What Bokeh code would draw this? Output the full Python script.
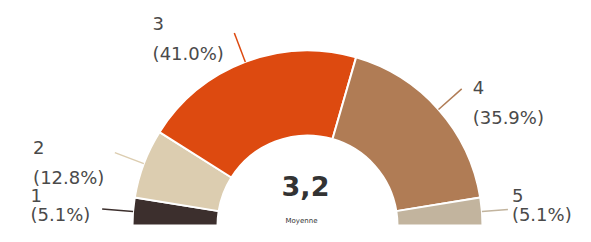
import math
from bokeh.plotting import figure
from bokeh.models import Range1d, ColumnDataSource
from bokeh.core.properties import value
from bokeh.embed import file_html
from bokeh.resources import INLINE

# ---- data ----
categories = ["1", "2", "3", "4", "5"]
percents = [5.1, 12.8, 41.0, 35.9, 5.1]
colors = ["#3c2f2d", "#dccdb0", "#dd4a10", "#b07c55", "#c2b49e"]
mean_label = "3,2"
mean_caption = "Moyenne"

W, H = 575, 226
p = figure(width=W, height=H, output_backend="svg", toolbar_location=None,
           x_range=Range1d(0, W), y_range=Range1d(0, H), min_border=0)
p.axis.visible = False
p.grid.visible = False
p.outline_line_color = None
p.background_fill_color = "white"

cx, cy = 307, 1
R_out, R_in = 175, 90
R_lead = 206

total = sum(percents)
starts, ends, mids = [], [], []
cum = 0.0
for v in percents:
    a0 = math.pi * (1 - cum / total)
    cum += v
    a1 = math.pi * (1 - cum / total)
    starts.append(a1)
    ends.append(a0)
    mids.append((a0 + a1) / 2)

src = ColumnDataSource(dict(start=starts, end=ends, color=colors,
                            x=[cx] * len(percents), y=[cy] * len(percents)))
p.annular_wedge(x="x", y="y", inner_radius=R_in, outer_radius=R_out,
                start_angle="start", end_angle="end", direction="anticlock",
                fill_color="color", line_color="white", line_width=2, source=src)

# leader lines and label layout
font = value("DejaVu Sans")
fs = "18px"
char_w = 10.1
labels = []
for cat, pct, col, m in zip(categories, percents, colors, mids):
    c, s = math.cos(m), math.sin(m)
    x1 = cx + R_lead * c
    y1 = cy + R_lead * s
    pct_txt = "(%.1f%%)" % pct
    tw = char_w * len(pct_txt)
    right = c >= 0
    if right:
        tx = min(x1 + 11, W - tw - 3)
        r_end = min(R_lead, (tx - 4 - cx) / c)
    else:
        tx = max(x1 - 11 - tw, 3)
        r_end = R_lead
    p.line([cx + R_out * c, cx + r_end * c], [cy + R_out * s, cy + r_end * s],
           line_color=col, line_width=1.5)
    lift = 8 if s > 0.9 else 0
    ly2 = max(y1 + 1 + lift - 30, 12)
    ly1 = max(y1 + 1 + lift, ly2 + 19)
    labels.append(dict(cat=cat, pct=pct_txt, tx=tx, ly1=ly1, ly2=ly2, right=right))

# avoid overlaps on each side (push upward)
for side in (True, False):
    group = sorted([l for l in labels if l["right"] == side], key=lambda l: l["ly2"])
    for lo, hi in zip(group, group[1:]):
        if hi["ly2"] < lo["ly1"] + 18:
            hi["ly2"] = lo["ly1"] + 18
            hi["ly1"] = hi["ly2"] + 30

for l in labels:
    p.text(x=[l["tx"]], y=[l["ly1"]], text=[l["cat"]], text_font=font, text_font_size=fs,
           text_color="#4a4a4a", text_align="left", text_baseline="middle")
    p.text(x=[l["tx"]], y=[l["ly2"]], text=[l["pct"]], text_font=font, text_font_size=fs,
           text_color="#4a4a4a", text_align="left", text_baseline="middle")

p.text(x=[cx - 2], y=[cy + 40], text=[mean_label], text_font=font,
       text_font_size="27px", text_font_style="bold", text_color="#333333",
       text_align="center", text_baseline="middle")
p.text(x=[cx - 6], y=[cy + 5], text=[mean_caption], text_font=font,
       text_font_size="7px", text_color="#333333",
       text_align="center", text_baseline="middle")

open("out.html", "w").write(file_html(p, INLINE))
